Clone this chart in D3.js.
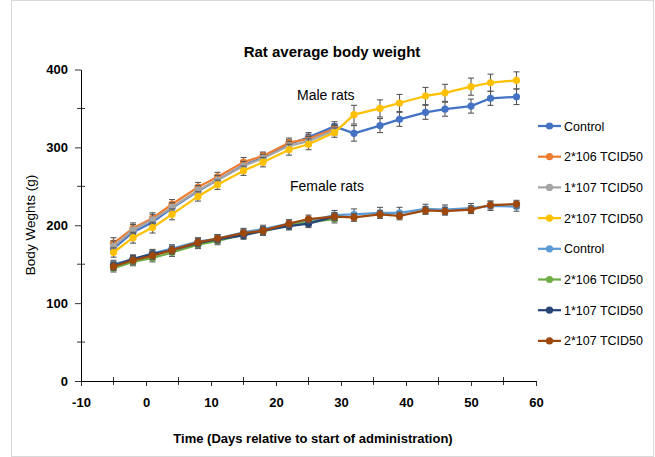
<!DOCTYPE html>
<html>
<head>
<meta charset="utf-8">
<script src="https://cdn.jsdelivr.net/npm/d3@7"></script>
<style>
  body { margin: 0; background: #fff; }
  text { font-family: "Liberation Sans", Arial, sans-serif; }
</style>
</head>
<body>
<div id="chart"></div>
<script>
// days of measurement
var days = [-5, -2, 1, 4, 8, 11, 15, 18, 22, 25, 29, 32, 36, 39, 43, 46, 50, 53, 57];

// male groups (g)
var maleControl = [170, 191, 204, 222, 244, 258, 277, 287, 304, 313, 327, 318, 328, 336, 345, 349, 353, 363, 365];
var male2e6 = [177, 196, 209, 227, 249, 262, 281, 289, 306, 311, 324];
var male1e7 = [173, 194, 207, 223, 245, 258, 276, 286, 302, 308, 322];
var male2e7 = [165, 184, 197, 214, 237, 252, 270, 281, 297, 304, 319, 342, 350, 357, 366, 370, 378, 383, 386];

// female groups (g)
var femaleControl = [150, 156, 164, 170, 179, 183, 191, 195, 202, 205, 213, 214, 216, 216, 221, 220, 222, 225, 224];
var female2e6 = [145, 153, 158, 165, 175, 180, 188, 192, 200, 204, 208];
var female1e7 = [148, 157, 163, 168, 177, 182, 187, 193, 199, 202, 211];
var female2e7 = [147, 155, 161, 168, 178, 183, 190, 193, 202, 208, 211, 210, 214, 212, 219, 218, 220, 226, 227];

// error bars (SD, g)
var maleControlSd = [6, 6, 6, 6, 6, 6, 6, 6, 6, 6, 6, 10, 9, 9, 9, 9, 9, 9, 10];
var male2e6Sd = [7, 7, 7, 6, 6, 6, 6, 5, 6, 6, 6];
var male1e7Sd = [7, 7, 7, 6, 6, 6, 6, 5, 6, 6, 6];
var male2e7Sd = [6, 7, 7, 7, 6, 6, 6, 6, 7, 7, 6, 12, 11, 11, 11, 11, 11, 11, 11];
var femaleControlSd = [5, 5, 5, 5, 5, 5, 5, 5, 5, 5, 6, 7, 7, 7, 6, 6, 6, 6, 6];
var female2e6Sd = [5, 5, 5, 5, 5, 5, 5, 5, 5, 5, 5];
var female1e7Sd = [5, 5, 5, 5, 5, 5, 5, 5, 5, 5, 5];
var female2e7Sd = [5, 5, 5, 5, 5, 5, 5, 5, 5, 5, 5, 5, 5, 5, 5, 5, 5, 5, 5];

var legendLabels = ["Control", "2*106 TCID50", "1*107 TCID50", "2*107 TCID50",
                    "Control", "2*106 TCID50", "1*107 TCID50", "2*107 TCID50"];
var colors = ["#4472C4", "#ED7D31", "#A5A5A5", "#FFC000",
              "#5B9BD5", "#70AD47", "#264478", "#9E480E"];
var xTicks = [-10, 0, 10, 20, 30, 40, 50, 60];
var yTicks = [0, 100, 200, 300, 400];

var series = [
    {values: maleControl, sd: maleControlSd},
    {values: male2e6, sd: male2e6Sd},
    {values: male1e7, sd: male1e7Sd},
    {values: male2e7, sd: male2e7Sd},
    {values: femaleControl, sd: femaleControlSd},
    {values: female2e6, sd: female2e6Sd},
    {values: female1e7, sd: female1e7Sd},
    {values: female2e7, sd: female2e7Sd}
];

var W = 655, H = 457;
var svg = d3.select("#chart").append("svg")
    .attr("width", W)
    .attr("height", H);

svg.append("rect")
    .attr("x", 11.5).attr("y", 0.5)
    .attr("width", W - 13).attr("height", H - 1)
    .attr("fill", "#fff")
    .attr("stroke", "#d9d9d9");

var x = d3.scaleLinear().domain([-10, 60]).range([81, 536]);
var y = d3.scaleLinear().domain([0, 400]).range([381, 69.5]);

// minor ticks (cross)
var xMinor = d3.range(-5, 60, 10);
svg.selectAll(".xminor").data(xMinor).enter().append("line")
    .attr("x1", d => x(d)).attr("x2", d => x(d))
    .attr("y1", y(0) - 4).attr("y2", y(0) + 4)
    .attr("stroke", "#000").attr("stroke-width", 0.8);
var yMinor = d3.range(50, 400, 100);
svg.selectAll(".yminor").data(yMinor).enter().append("line")
    .attr("x1", x(-10) - 4).attr("x2", x(-10) + 4)
    .attr("y1", d => y(d)).attr("y2", d => y(d))
    .attr("stroke", "#000").attr("stroke-width", 0.8);

var xAxis = svg.append("g")
    .attr("transform", "translate(0," + y(0) + ")")
    .call(d3.axisBottom(x).tickValues(xTicks).tickFormat(d => String(d))
        .tickSize(5).tickSizeOuter(0));
var yAxis = svg.append("g")
    .attr("transform", "translate(" + x(-10) + ",0)")
    .call(d3.axisLeft(y).tickValues(yTicks).tickFormat(d => String(d))
        .tickSize(6).tickSizeOuter(0));

[xAxis, yAxis].forEach(function(a) {
    a.select(".domain").attr("stroke", "#000").attr("stroke-width", 1);
    a.selectAll(".tick line").attr("stroke", "#000").attr("stroke-width", 0.8);
    a.selectAll(".tick text")
        .attr("fill", "#000")
        .attr("font-size", 13)
        .attr("font-weight", "bold")
        .attr("font-family", "Liberation Sans, Arial, sans-serif");
});
xAxis.selectAll(".tick text").attr("dy", "1.35em");
yAxis.selectAll(".tick text").attr("x", -13);

var line = d3.line()
    .x(d => x(d.day))
    .y(d => y(d.v));

series.forEach(function(s, k) {
    var pts = s.values.map(function(v, i) {
        return {day: days[i], v: v, sd: s.sd[i]};
    });
    var g = svg.append("g");
    // error bars
    var eb = g.selectAll(".eb").data(pts).enter().append("g")
        .attr("stroke", "#595959").attr("stroke-width", 1.1);
    eb.append("line")
        .attr("x1", d => x(d.day)).attr("x2", d => x(d.day))
        .attr("y1", d => y(d.v - d.sd)).attr("y2", d => y(d.v + d.sd));
    eb.append("line")
        .attr("x1", d => x(d.day) - 3).attr("x2", d => x(d.day) + 3)
        .attr("y1", d => y(d.v + d.sd)).attr("y2", d => y(d.v + d.sd));
    eb.append("line")
        .attr("x1", d => x(d.day) - 3).attr("x2", d => x(d.day) + 3)
        .attr("y1", d => y(d.v - d.sd)).attr("y2", d => y(d.v - d.sd));
    g.append("path")
        .datum(pts)
        .attr("d", line)
        .attr("fill", "none")
        .attr("stroke", colors[k])
        .attr("stroke-width", 2.25)
        .attr("stroke-linejoin", "round");
    g.selectAll(".pt").data(pts).enter().append("circle")
        .attr("cx", d => x(d.day))
        .attr("cy", d => y(d.v))
        .attr("r", 3.6)
        .attr("fill", colors[k]);
});

// title and annotations
svg.append("text")
    .attr("x", 332).attr("y", 57)
    .attr("text-anchor", "middle")
    .attr("font-size", 15).attr("font-weight", "bold")
    .text("Rat average body weight");
svg.append("text")
    .attr("x", 297).attr("y", 100)
    .attr("font-size", 14)
    .text("Male rats");
svg.append("text")
    .attr("x", 290).attr("y", 191)
    .attr("font-size", 14)
    .text("Female rats");

svg.append("text")
    .attr("transform", "translate(35,225) rotate(-90)")
    .attr("text-anchor", "middle")
    .attr("font-size", 13.5)
    .text("Body Weghts (g)");
svg.append("text")
    .attr("x", 313).attr("y", 443)
    .attr("text-anchor", "middle")
    .attr("font-size", 13).attr("font-weight", "bold")
    .text("Time (Days relative to start of administration)");

// legend
var leg = svg.selectAll(".leg").data(legendLabels).enter().append("g")
    .attr("transform", (d, i) => "translate(538," + (126 + i * 30.7) + ")");
leg.append("line")
    .attr("x1", 0).attr("x2", 23)
    .attr("stroke", (d, i) => colors[i])
    .attr("stroke-width", 2.25);
leg.append("circle")
    .attr("cx", 11.5).attr("r", 3.6)
    .attr("fill", (d, i) => colors[i]);
leg.append("text")
    .attr("x", 26).attr("dy", "0.36em")
    .attr("font-size", 12.5)
    .text(d => d);
</script>
</body>
</html>
